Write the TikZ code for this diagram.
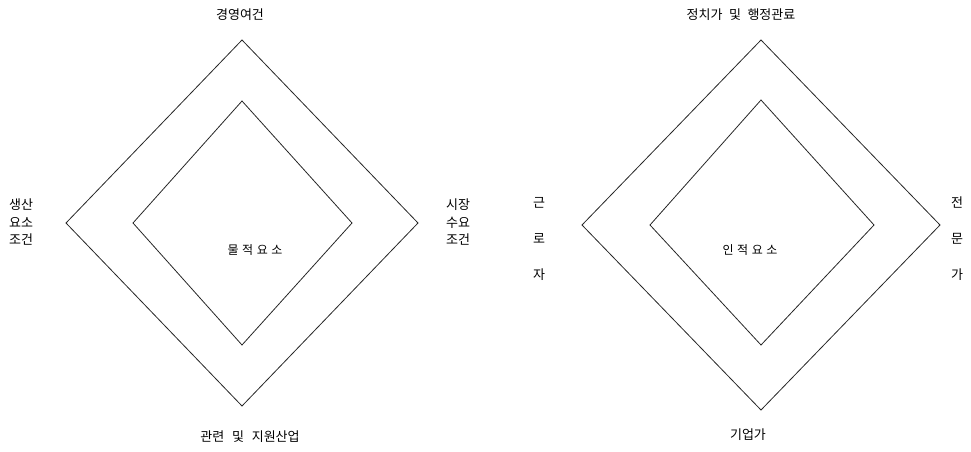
\documentclass[tikz,border=0pt]{standalone}
\usepackage{fontspec}
\setmainfont{Noto Sans CJK KR}

\begin{document}
\begin{tikzpicture}
[x=1pt, y=-1pt,
    every node/.style={font=\fontsize{13}{17.5}\selectfont, inner sep=1pt, align=center},
    frame/.style={draw=black!85, line width=0.8pt, line join=miter},
    core/.style={font=\fontsize{12}{14}\selectfont},
    vlabel/.style={align=center, font=\fontsize{13}{36}\selectfont},
    ]
    \useasboundingbox (0,0) rectangle (971,452);

    % left diamond
    \coordinate (lc) at (242,223);
    \draw[frame] (242,40) -- (418,223) -- (242,406) -- (66,223) -- cycle;
    \draw[frame] (242,101) -- (352,223) -- (242,345) -- (133,223) -- cycle;
    \node[core] (lcore) at (255,250) {물\hspace{.3em}적\hspace{.3em}요\hspace{.3em}소};
    \node (ltop) at (240,15) {경영여건};
    \node (lbottom) at (250,437) {관련\hspace{.6em}및\hspace{.6em}지원산업};
    \node[anchor=west] (lleft) at (8,222) {생산\\요소\\조건};
    \node[anchor=west] (lright) at (445,222) {시장\\수요\\조건};

    % right diamond
    \coordinate (rc) at (761,225);
    \draw[frame] (761,40) -- (940,225) -- (761,410) -- (582,225) -- cycle;
    \draw[frame] (761,100) -- (874,225) -- (761,345) -- (650,225) -- cycle;
    \node[core] (rcore) at (750,250) {인\hspace{.3em}적\hspace{.3em}요\hspace{.3em}소};
    \node (rtop) at (741,15) {정치가\hspace{.5em}및\hspace{.5em}행정관료};
    \node (rbottom) at (748,435) {기업가};
    \node[vlabel] (rleft) at (539,239) {근\\로\\자};
    \node[vlabel] (rright) at (957,239) {전\\문\\가};

\end{tikzpicture}
\end{document}
